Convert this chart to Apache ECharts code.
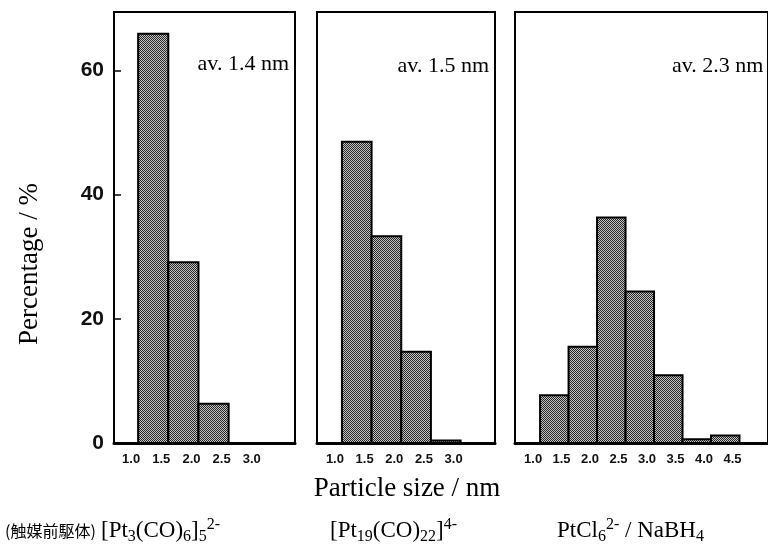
<!DOCTYPE html>
<html>
<head>
<meta charset="utf-8">
<style>
  html, body { margin: 0; padding: 0; background: #fff; }
  #chart { width: 768px; height: 544px; }
</style>
<script src="https://cdn.jsdelivr.net/npm/echarts@6.0.0/dist/echarts.min.js"></script>
</head>
<body>
<div id="chart"></div>
<script>
// ---- data ----
const binWidth = 0.5;
const binStarts1 = [1.0, 1.5, 2.0, 2.5];
const values1 = [65.9, 29.1, 6.3, 0];
const binStarts2 = [1.0, 1.5, 2.0, 2.5];
const values2 = [48.5, 33.3, 14.7, 0.4];
const binStarts3 = [1.0, 1.5, 2.0, 2.5, 3.0, 3.5, 4.0];
const values3 = [7.7, 15.5, 36.3, 24.4, 10.9, 0.6, 1.2];
const xTicks12 = [1.0, 1.5, 2.0, 2.5, 3.0];
const xTicks3 = [1.0, 1.5, 2.0, 2.5, 3.0, 3.5, 4.0, 4.5];
const yTicks = [0, 20, 40, 60];
const averages = ['av. 1.4 nm', 'av. 1.5 nm', 'av. 2.3 nm'];

// ---- pattern fill (dithered gray) ----
const pc = document.createElement('canvas');
pc.width = 2; pc.height = 2;
const pctx = pc.getContext('2d');
pctx.fillStyle = '#c4c4c4'; pctx.fillRect(0, 0, 2, 2);
pctx.fillStyle = '#262626'; pctx.fillRect(0, 0, 1, 1); pctx.fillRect(1, 1, 1, 1);
const patternFill = { image: pc, repeat: 'repeat' };

const chart = echarts.init(document.getElementById('chart'), null, { renderer: 'canvas' });

const serif = '"Liberation Serif", "Times New Roman", serif';
const sans = '"Liberation Sans", Arial, sans-serif';

function toData(starts, vals) {
  return starts.map((s, i) => [s, s + binWidth, vals[i]]);
}

function renderItem(params, api) {
  const x0 = api.value(0), x1 = api.value(1), y = api.value(2);
  const p0 = api.coord([x0, y]);
  const p1 = api.coord([x1, 0]);
  return {
    type: 'rect',
    shape: { x: p0[0], y: p0[1], width: p1[0] - p0[0], height: p1[1] - p0[1] },
    style: { fill: patternFill, stroke: '#000', lineWidth: 2 }
  };
}

const yMax = 69.4;
const grids = [
  { left: 114, top: 12, width: 181, height: 431 },
  { left: 317, top: 12, width: 178, height: 431 },
  { left: 515, top: 12, width: 260, height: 431 }
];
const xRanges = [[0.6, 3.6], [0.58, 3.58], [0.56, 5.0]];
const xTickSets = [xTicks12, xTicks12, xTicks3];

const subRich = {
  n: { fontFamily: serif, fontSize: 23, color: '#000' },
  sub: { fontFamily: serif, fontSize: 16, color: '#000', padding: [12, 0, 0, 0] },
  sup: { fontFamily: serif, fontSize: 16, color: '#000', padding: [0, 0, 12, 0] }
};

const option = {
  animation: false,
  backgroundColor: '#fff',
  grid: grids.map(g => Object.assign({ show: true, borderColor: '#000', borderWidth: 2, backgroundColor: 'transparent' }, g)),
  xAxis: grids.map((g, i) => ({
    type: 'value', gridIndex: i, min: xRanges[i][0], max: xRanges[i][1],
    splitLine: { show: false },
    axisLine: { show: true, lineStyle: { color: '#000', width: 3 } },
    axisTick: { show: false },
    axisLabel: {
      customValues: xTickSets[i],
      formatter: v => '{a|' + v.toFixed(1) + '}',
      margin: 10,
      rich: { a: { fontFamily: sans, fontWeight: 'bold', fontSize: 13, color: '#111', padding: [0, 14, 0, 0] } }
    }
  })),
  yAxis: grids.map((g, i) => ({
    type: 'value', gridIndex: i, min: 0, max: yMax, interval: 20,
    splitLine: { show: false },
    axisLine: { show: false },
    axisTick: { show: i === 0, inside: true, length: 7, lineStyle: { color: '#000', width: 1.5 }, customValues: yTicks },
    axisLabel: {
      show: i === 0, customValues: yTicks, margin: 10,
      fontFamily: sans, fontWeight: 'bold', fontSize: 21, color: '#111'
    }
  })),
  series: [
    { type: 'custom', xAxisIndex: 0, yAxisIndex: 0, renderItem, encode: { x: [0, 1], y: 2 }, data: toData(binStarts1, values1) },
    { type: 'custom', xAxisIndex: 1, yAxisIndex: 1, renderItem, encode: { x: [0, 1], y: 2 }, data: toData(binStarts2, values2) },
    { type: 'custom', xAxisIndex: 2, yAxisIndex: 2, renderItem, encode: { x: [0, 1], y: 2 }, data: toData(binStarts3, values3) }
  ],
  graphic: [
    { type: 'text', x: 289, y: 64, style: { text: averages[0], font: '22px ' + serif, fill: '#000', align: 'right', verticalAlign: 'middle' } },
    { type: 'text', x: 489, y: 66, style: { text: averages[1], font: '22px ' + serif, fill: '#000', align: 'right', verticalAlign: 'middle' } },
    { type: 'text', x: 672, y: 66, style: { text: averages[2], font: '22px ' + serif, fill: '#000', align: 'left', verticalAlign: 'middle' } },
    { type: 'text', x: 30, y: 264, rotation: Math.PI / 2, style: { text: 'Percentage / %', font: '27px ' + serif, fill: '#000', align: 'center', verticalAlign: 'middle' } },
    { type: 'text', x: 407, y: 489, style: { text: 'Particle size / nm', font: '27px ' + serif, fill: '#000', align: 'center', verticalAlign: 'middle' } },
    { type: 'text', x: 5, y: 531, style: { text: '(触媒前駆体)', font: '16px "Noto Sans CJK JP", sans-serif', fill: '#000', align: 'left', verticalAlign: 'middle' } },
    { type: 'text', x: 101, y: 531, style: {
        text: '{n|[Pt}{sub|3}{n|(CO)}{sub|6}{n|]}{sub|5}{sup|2-}',
        align: 'left', verticalAlign: 'middle', rich: subRich } },
    { type: 'text', x: 330, y: 531, style: {
        text: '{n|[Pt}{sub|19}{n|(CO)}{sub|22}{n|]}{sup|4-}',
        align: 'left', verticalAlign: 'middle', rich: subRich } },
    { type: 'text', x: 557, y: 531, style: {
        text: '{n|PtCl}{sub|6}{sup|2-}{n| / NaBH}{sub|4}',
        align: 'left', verticalAlign: 'middle', rich: subRich } }
  ]
};

chart.setOption(option);
</script>
</body>
</html>
